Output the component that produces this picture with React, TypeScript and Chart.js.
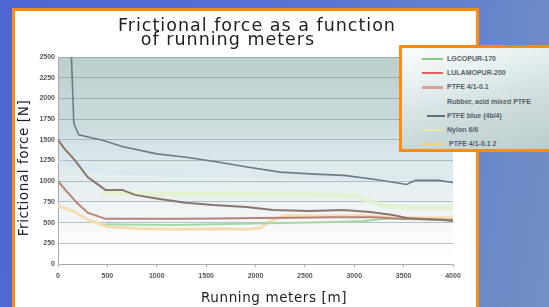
import React, { useEffect, useRef } from "react";
import { Chart, registerables } from "chart.js";
Chart.register(...registerables);

// ---- data ----
const xTickLabels = ["0", "500", "1000", "1500", "2000", "2500", "3000", "3500", "4000"];
const yTickLabels = ["0", "250", "500", "750", "1000", "1250", "1500", "1750", "2000", "2250", "2500"];

const seriesNames = [
  "LGCOPUR-170",
  "LULAMOPUR-200",
  "PTFE 4/1-0.1",
  "Rubber, acid mixed PTFE",
  "PTFE blue (4b/4)",
  "Nylon 6/6",
  "PTFE 4/1-0.1 2",
];

const lgcopurX = [480, 800, 1200, 1600, 2000, 2400, 2800, 3100, 3300, 3600, 4000];
const lgcopurY = [480, 475, 472, 480, 488, 498, 508, 520, 545, 540, 535];

const lulamopurX = [0, 100, 200, 300, 480, 800, 1200, 1600, 2000, 2400, 2800, 3200, 3500, 4000];
const lulamopurY = [1000, 860, 730, 620, 545, 545, 545, 550, 555, 560, 565, 565, 545, 530];

const ptfeX = [0, 60, 170, 300, 480, 650, 780, 980, 1290, 1570, 1910, 2180, 2550, 2890, 3160, 3390, 3530, 3900, 4000];
const ptfeY = [1500, 1400, 1255, 1050, 895, 895, 835, 795, 740, 712, 688, 652, 640, 652, 628, 592, 556, 530, 520];

const rubberX = [0, 500, 1000, 2000, 3000, 4000];
const rubberY = [1240, 1120, 1085, 1065, 1045, 1035];

const ptfeBlueX = [130, 160, 210, 450, 650, 1000, 1300, 1600, 1900, 2250, 2600, 2900, 3250, 3530, 3620, 3850, 4000];
const ptfeBlueY = [2700, 1700, 1560, 1495, 1420, 1330, 1290, 1235, 1175, 1110, 1085, 1070, 1015, 960, 1010, 1010, 985];

const nylonX = [450, 1000, 1500, 2000, 2500, 3000, 3300, 3600, 4000];
const nylonY = [850, 845, 845, 840, 835, 825, 700, 680, 680];

const ptfe2X = [0, 150, 300, 500, 800, 1200, 1600, 1900, 2050, 2150, 2300, 2700, 3100, 3400, 3700, 4000];
const ptfe2Y = [700, 640, 540, 450, 430, 420, 425, 420, 435, 520, 585, 580, 585, 560, 560, 560];

const seriesX = [lgcopurX, lulamopurX, ptfeX, rubberX, ptfeBlueX, nylonX, ptfe2X];
const seriesY = [lgcopurY, lulamopurY, ptfeY, rubberY, ptfeBlueY, nylonY, ptfe2Y];

// ---- styles ----
const lineColors = ["#a6d8a6", "#b8837a", "#8a766e", "rgba(214,230,242,0.6)", "#6a7d85", "rgba(226,242,206,0.85)", "#f5ddb2"];
const lineWidths = [2, 2, 2, 4, 1.6, 5, 3];
const lineOrder = [4, 3, 2, 9, 0, 8, 5];
const legendSwatch = ["#80cc80", "#e06060", "#d8a394", "#d4e6f0", "#5c6f7a", "#e4e8a6", "#f0d27a"];

const plotBg = {
  id: "plotBg",
  beforeDraw(chart: any) {
    const { ctx, chartArea } = chart;
    if (!chartArea) return;
    const { left, top, right, bottom } = chartArea;
    const g = ctx.createLinearGradient(0, top, 0, bottom);
    g.addColorStop(0, "rgb(188,207,207)");
    g.addColorStop(0.3, "rgb(200,218,219)");
    g.addColorStop(0.5, "rgb(220,232,236)");
    g.addColorStop(0.65, "rgb(233,240,241)");
    g.addColorStop(0.8, "rgb(244,247,249)");
    g.addColorStop(0.9, "rgb(252,253,254)");
    g.addColorStop(1, "rgb(255,255,255)");
    ctx.save();
    ctx.fillStyle = g;
    ctx.fillRect(left, top, right - left, bottom - top);
    ctx.restore();
  },
};

export default function App() {
  const ref = useRef<HTMLCanvasElement>(null);
  useEffect(() => {
    if (!ref.current) return;
    const datasets = seriesNames.map((name, i) => ({
      label: name,
      data: seriesX[i].map((x, j) => ({ x, y: seriesY[i][j] })),
      borderColor: lineColors[i],
      borderWidth: lineWidths[i],
      pointRadius: 0,
      fill: false,
      tension: 0,
      order: lineOrder[i],
    }));
    const chart = new Chart(ref.current, {
      type: "line",
      data: { datasets },
      plugins: [plotBg],
      options: {
        animation: false,
        responsive: false,
        devicePixelRatio: 1,
        layout: { padding: { left: 0, right: 96, top: 57, bottom: 0 } },
        plugins: { legend: { display: false }, tooltip: { enabled: false }, title: { display: false } },
        scales: {
          x: {
            type: "linear",
            min: 0,
            max: 4000,
            afterFit: (s: any) => { s.height = 43; },
            afterBuildTicks: (s: any) => { s.ticks = xTickLabels.map((t) => ({ value: Number(t) })); },
            ticks: {
              callback: (v: any) => String(v),
              font: { family: "Liberation Sans", size: 7, weight: "bold" },
              color: "#555",
              padding: 5,
              maxRotation: 0,
              autoSkip: false,
            },
            grid: { drawOnChartArea: false, drawTicks: true, tickLength: 3, color: "#aaa" },
            border: { color: "#aaa" },
          },
          y: {
            min: 0,
            max: 2500,
            afterFit: (s: any) => { s.width = 58; },
            afterBuildTicks: (s: any) => { s.ticks = yTickLabels.map((t) => ({ value: Number(t) })); },
            ticks: {
              callback: (v: any) => String(v),
              font: { family: "Liberation Sans", size: 7, weight: "bold" },
              color: "#555",
              padding: 3,
              autoSkip: false,
            },
            grid: { color: "rgba(120,140,142,0.5)", drawTicks: false },
            border: { color: "#aaa" },
          },
        },
      },
    });
    return () => chart.destroy();
  }, []);

  const legendTop = 11;
  const legendStep = 14.2;
  const titleStyle: React.CSSProperties = {
    position: "absolute", width: 400, textAlign: "center", fontFamily: "DejaVu Sans",
    fontSize: 17.5, lineHeight: "18px", letterSpacing: 1, color: "#1e1e1e", whiteSpace: "nowrap",
  };
  const axisStyle: React.CSSProperties = {
    position: "absolute", width: 200, height: 16, textAlign: "center", fontFamily: "DejaVu Sans",
    fontSize: 13.5, lineHeight: "16px", letterSpacing: 0.6, color: "#1e1e1e", whiteSpace: "nowrap",
  };

  return (
    <div style={{ position: "fixed", left: 0, top: 0, width: 549, height: 307, overflow: "hidden",
      background: "linear-gradient(100deg, #4d66d2 0%, #5572d4 45%, #6484cc 80%, #7391c2 100%)" }}>
      <div style={{ position: "absolute", left: 12, top: 8, width: 461, height: 320, background: "#fff",
        border: "3px solid #ff8c12" }} />
      <canvas ref={ref} width={549} height={307}
        style={{ position: "absolute", left: 0, top: 0, width: 549, height: 307, filter: "blur(0.35px)" }} />
      <div style={{ ...titleStyle, left: 57, top: 16 }}>Frictional force as a function</div>
      <div style={{ ...titleStyle, left: 28, top: 30 }}>of running meters</div>
      <div style={{ ...axisStyle, left: 23 - 100, top: 168 - 8, transform: "rotate(-90deg)" }}>
        Frictional force [N]
      </div>
      <div style={{ ...axisStyle, left: 274 - 100, top: 297 - 8 }}>Running meters [m]</div>
      <div style={{ position: "absolute", left: 399, top: 45, width: 160, height: 101,
        border: "3px solid #ff8c12",
        background: "linear-gradient(165deg, #fbfdfd 0%, #e2ecec 35%, #cbdada 65%, #b9cdcd 100%)" }}>
        {seriesNames.map((name, i) => (
          <div key={name} style={{ position: "absolute", left: 0, top: legendTop + i * legendStep - 5, height: 10, width: 160 }}>
            <div style={{ position: "absolute", left: i === 4 ? 25 : 20, top: 4, width: i === 4 ? 18 : 21,
              height: i === 2 ? 3 : 2, background: legendSwatch[i] }} />
            <div style={{ position: "absolute", left: i === 6 ? 47 : 45, top: 0, fontFamily: "Liberation Sans",
              fontSize: 7, fontWeight: "bold", lineHeight: "10px", color: "#56606a", whiteSpace: "nowrap" }}>
              {name}
            </div>
          </div>
        ))}
      </div>
    </div>
  );
}
